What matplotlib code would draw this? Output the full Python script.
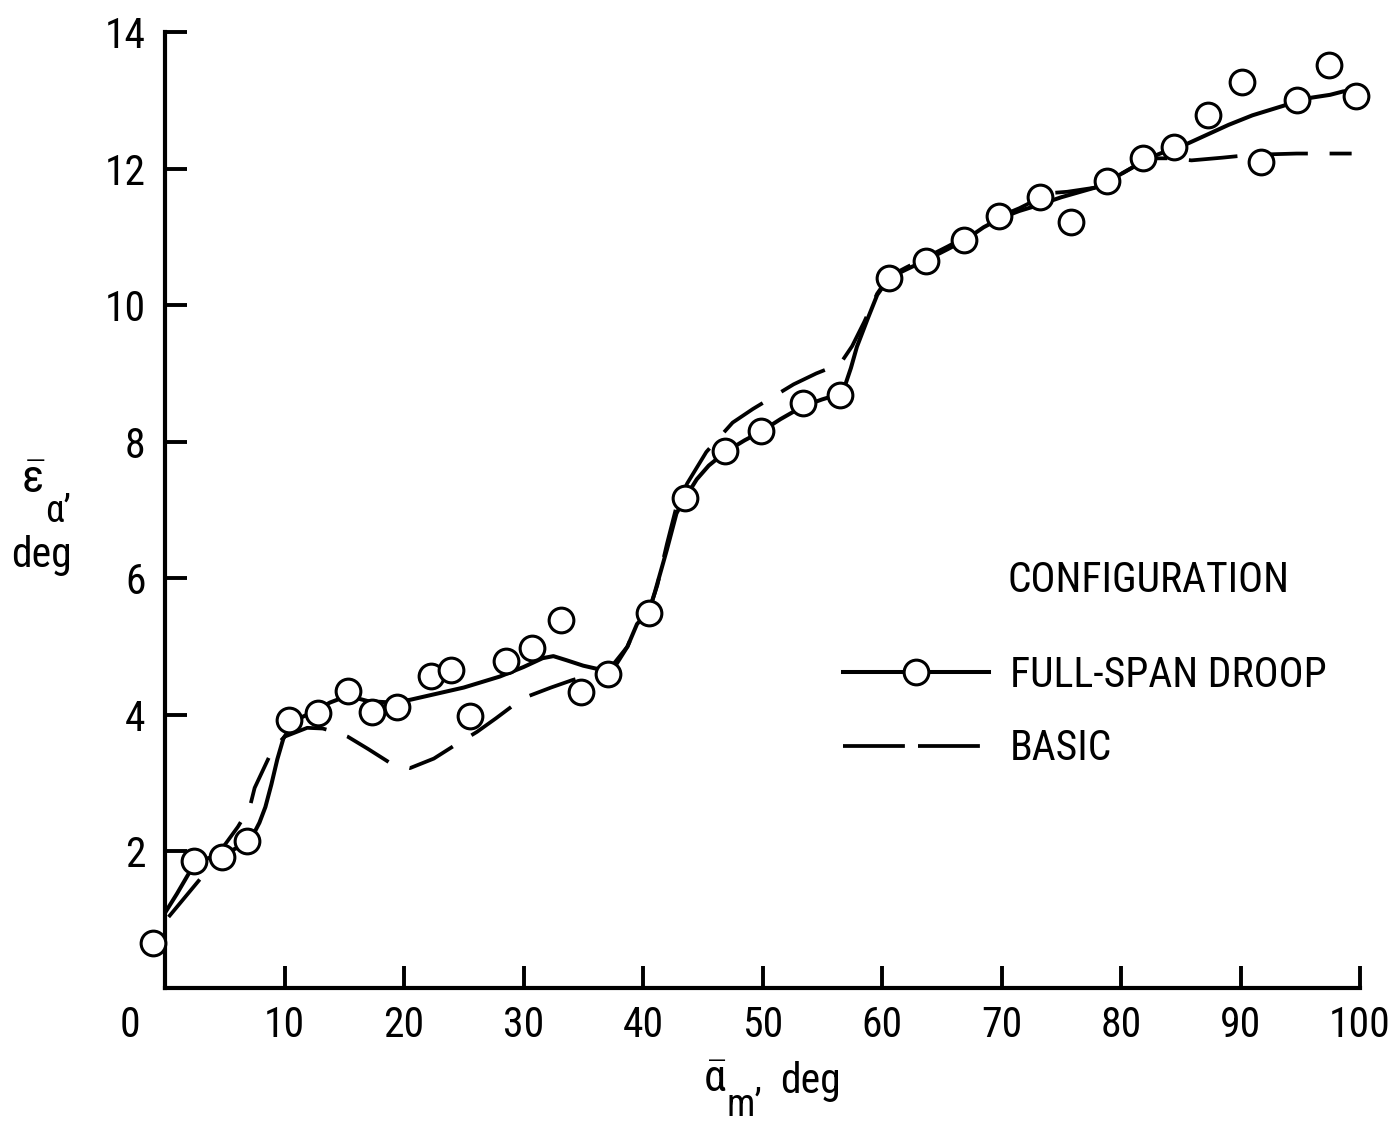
import matplotlib
matplotlib.use("Agg")
import matplotlib.pyplot as plt
from matplotlib.lines import Line2D

plt.rcParams['font.family'] = ['Roboto Condensed', 'Sofia Sans Condensed',
                               'Liberation Sans Narrow', 'DejaVu Sans']
plt.rcParams['mathtext.fontset'] = 'custom'
plt.rcParams['mathtext.rm'] = 'Roboto Condensed'
plt.rcParams['mathtext.it'] = 'Roboto Condensed'
plt.rcParams['mathtext.bf'] = 'Roboto Condensed'

# measured points, full-span droop
droop_x = [-1.0, 2.4, 4.8, 6.9, 10.4, 12.8, 15.3, 17.3, 19.4, 22.3, 23.9, 25.5,
           28.5, 30.7, 33.1, 34.8, 37.1, 40.5, 43.5, 46.9, 49.9, 53.4, 56.5,
           60.6, 63.7, 66.9, 69.8, 73.2, 75.8, 78.8, 81.8, 84.4, 87.3, 90.1,
           91.7, 94.7, 97.4, 99.7]
droop_y = [0.66, 1.86, 1.92, 2.15, 3.93, 4.03, 4.35, 4.04, 4.12, 4.57, 4.66, 3.99,
           4.79, 4.98, 5.39, 4.34, 4.60, 5.49, 7.17, 7.87, 8.16, 8.56, 8.69,
           10.40, 10.64, 10.96, 11.31, 11.58, 11.22, 11.82, 12.15, 12.31, 12.79, 13.27,
           12.10, 13.01, 13.52, 13.07]

# faired curve through full-span droop data
fit_x = [0.0, 1.0, 2.4, 3.6, 4.8, 6.0, 6.9, 7.4, 7.9, 8.4, 8.9, 9.4, 9.9, 10.6, 11.5,
         12.8, 13.8, 15.3, 17.0, 19.0, 20.5, 22.5, 25.0, 28.0, 30.0, 31.6,
         32.5, 33.6, 35.0, 36.0, 37.1, 37.8, 38.7, 39.5, 40.5, 41.0, 42.0,
         42.8, 43.5, 44.5, 45.5, 46.9, 48.5, 49.9, 51.5, 53.4, 55.0, 56.5,
         56.9, 57.4, 57.9, 58.8, 59.6, 60.6, 62.0, 63.7, 65.5, 67.0, 68.5, 70.0,
         71.5, 73.0, 75.0, 77.8, 79.0, 80.5, 81.8, 83.0, 84.4, 85.5, 87.0,
         89.0, 91.0, 93.6, 94.7, 96.0, 97.5, 98.6, 99.7]
fit_y = [1.10, 1.38, 1.80, 1.90, 1.95, 2.05, 2.15, 2.25, 2.42, 2.65, 2.98, 3.35, 3.65, 3.85, 3.97,
         4.08, 4.18, 4.28, 4.20, 4.18, 4.22, 4.30, 4.40, 4.56, 4.70, 4.83,
         4.86, 4.80, 4.72, 4.68, 4.65, 4.75, 5.00, 5.33, 5.52, 5.80, 6.42,
         6.95, 7.17, 7.45, 7.65, 7.85, 8.02, 8.15, 8.33, 8.52, 8.62, 8.70,
         8.82, 9.08, 9.39, 9.80, 10.15, 10.40, 10.52, 10.66, 10.82, 10.96, 11.14, 11.28,
         11.38, 11.46, 11.58, 11.72, 11.82, 11.97, 12.10, 12.20, 12.30, 12.36, 12.48,
         12.64, 12.78, 12.92, 13.00, 13.04, 13.08, 13.13, 13.15]

# basic configuration curve
basic_x = [0.3, 3.1, 4.6, 6.1, 7.1, 7.5, 9.0, 10.0, 11.9, 13.2, 14.4, 15.3, 17.0,
           18.8, 20.5, 22.5, 24.3, 26.1, 27.7, 29.3, 30.5, 32.3, 34.1, 35.5,
           37.1, 38.7, 39.5, 40.5, 41.2, 42.0, 42.8, 43.7, 45.3, 47.5, 49.2,
           51.0, 52.6, 54.5, 56.5, 57.5, 58.5, 59.6, 60.6, 62.0, 63.7, 65.5,
           67.0, 68.5, 70.0, 71.5, 74.0, 75.5, 77.8, 79.0, 80.5, 81.8, 83.0,
           84.4, 85.9, 88.5, 90.8, 92.7, 94.7, 99.3]
basic_y = [1.04, 1.63, 2.00, 2.36, 2.65, 2.93, 3.49, 3.68, 3.81, 3.80, 3.74, 3.68, 3.50,
           3.30, 3.22, 3.36, 3.56, 3.75, 3.95, 4.16, 4.28, 4.40, 4.51, 4.58,
           4.65, 5.00, 5.33, 5.52, 5.90, 6.50, 7.05, 7.39, 7.85, 8.28, 8.48,
           8.67, 8.84, 9.00, 9.14, 9.40, 9.75, 10.17, 10.42, 10.55, 10.70, 10.86,
           11.00, 11.17, 11.31, 11.42, 11.64, 11.66, 11.72, 11.82, 11.97, 12.10, 12.15,
           12.15, 12.12, 12.16, 12.20, 12.21, 12.22, 12.22]

x_ticks = [10, 20, 30, 40, 50, 60, 70, 80, 90, 100]
y_ticks = [2, 4, 6, 8, 10, 12, 14]

fig = plt.figure(figsize=(13.96, 11.25), dpi=100)
ax = fig.add_axes([165/1396, 1 - 988/1125, 1195/1396, 956/1125])

ax.plot(fit_x, fit_y, color='black', lw=2.9, solid_capstyle='butt',
        solid_joinstyle='round', zorder=2)
ax.plot(basic_x, basic_y, color='black', lw=2.7, linestyle=(0, (13, 5.8)),
        dash_capstyle='butt', zorder=2)
ax.plot(droop_x, droop_y, linestyle='none', marker='o', ms=17.8, mfc='white',
        mec='black', mew=2.2, zorder=3, clip_on=False)

ax.set_xlim(0, 100)
ax.set_ylim(0, 14)
ax.set_xticks(x_ticks)
ax.set_yticks(y_ticks)
for s in ['top', 'right']:
    ax.spines[s].set_visible(False)
for s in ['left', 'bottom']:
    ax.spines[s].set_linewidth(3)
ax.tick_params(direction='in', length=16, width=2.8, labelsize=30, pad=14)
ax.tick_params(axis='x', pad=12)

ax.text(-2.9, -0.55, '0', fontsize=30, ha='center', va='center')

# y label
fig.text(33/1396, 1 - 480/1125, r"$\bar{\varepsilon}$", fontsize=34,
         ha='center', va='center')
fig.text(58/1396, 1 - 512/1125, "α’", fontsize=27, ha='center', va='center')
fig.text(41/1396, 1 - 556/1125, 'deg', fontsize=30, ha='center', va='center')

# x label
fig.text(715/1396, 1 - 1080/1125, r"$\bar{\alpha}$", fontsize=32,
         ha='center', va='center')
fig.text(744/1396, 1 - 1106/1125, "m’", fontsize=27, ha='center', va='center')
fig.text(810/1396, 1 - 1082/1125, 'deg', fontsize=30, ha='center', va='center')

ax.text(1008/1396, 1 - 580/1125, 'CONFIGURATION', fontsize=30,
        transform=fig.transFigure, ha='left', va='center')

h1 = Line2D([], [], color='black', lw=2.9, marker='o', ms=17.8, mfc='white',
            mec='black', mew=2.2)
h2 = Line2D([], [], color='black', lw=2.7, linestyle=(0, (16.5, 3.5)),
            dash_capstyle='butt')
ax.legend([h1, h2], ['FULL-SPAN DROOP', 'BASIC'], loc='center left',
          bbox_to_anchor=(843/1396, 1 - 712/1125), bbox_transform=fig.transFigure,
          frameon=False, fontsize=30, numpoints=1, handlelength=3.5,
          handletextpad=0.5, labelspacing=0.78, borderpad=0, borderaxespad=0)

fig.savefig('out.png', dpi=100)
